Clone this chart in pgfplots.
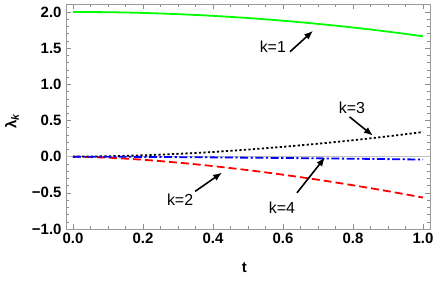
\documentclass[border=0pt]{standalone}
\usepackage{fontspec}
\setmainfont{Liberation Sans}
\usepackage{pgfplots}
\pgfplotsset{compat=1.18}
\usetikzlibrary{arrows.meta}
\begin{document}
\begin{tikzpicture}
\begin{axis}[
  scale only axis, width=364bp, height=225bp,
  xmin=-0.02, xmax=1.02, ymin=-1.0, ymax=2.11,
  axis line style={color=black!40},
  tick align=inside,
  major tick length=5bp, minor tick length=3bp,
  every tick/.style={color=black!45, line width=0.5pt},
  xtick={0,0.2,0.4,0.6,0.8,1.0},
  xticklabels={0.0,0.2,0.4,0.6,0.8,1.0},
  minor x tick num=3,
  ytick={-1,-0.5,0,0.5,1,1.5,2},
  yticklabels={−1.0,−0.5,0.0,0.5,1.0,1.5,2.0},
  minor y tick num=4,
  ticklabel style={font=\bfseries\fontsize{15}{15}\selectfont},
  xticklabel style={yshift=-1bp},
  yticklabel style={xshift=-1bp},
  xlabel={t}, ylabel={λ\textsubscript{\itshape k}},
  every axis x label/.style={at={(rel axis cs:0.49,0)}, anchor=center, yshift=-39bp, font=\bfseries\fontsize{15}{15}\selectfont},
  every axis y label/.style={at={(rel axis cs:0,0.48)}, anchor=center, xshift=-54bp, rotate=90, font=\bfseries\fontsize{15}{15}\selectfont},
  clip=true,
]
\addplot[black!25, line width=0.6pt, forget plot] coordinates {(-0.02,0) (1.02,0)};
\addplot[color={rgb,255:red,0;green,255;blue,0}, line width=1.8pt, smooth] coordinates {
(0,2.000) (0.1,1.9966) (0.2,1.9866) (0.3,1.9698) (0.4,1.9462) (0.5,1.916) (0.6,1.879) (0.7,1.835) (0.8,1.785) (0.9,1.728) (1.0,1.664)};
\addplot[color={rgb,255:red,255;green,0;blue,0}, line width=1.8pt, dash pattern=on 8bp off 4bp, smooth] coordinates {
(0,0) (0.1,-0.0142) (0.2,-0.043) (0.3,-0.0825) (0.4,-0.1305) (0.5,-0.1865) (0.6,-0.2497) (0.7,-0.319) (0.8,-0.3955) (0.9,-0.4774) (1.0,-0.565)};
\addplot[black, line width=1.8pt, dash pattern=on 2.2bp off 2.3bp, smooth] coordinates {
(0,0) (0.1,0.0054) (0.2,0.0188) (0.3,0.039) (0.4,0.065) (0.5,0.098) (0.6,0.136) (0.7,0.179) (0.8,0.227) (0.9,0.281) (1.0,0.34)};
\addplot[color={rgb,255:red,0;green,0;blue,255}, line width=1.8pt, dash pattern=on 8bp off 2.5bp on 2.2bp off 2.5bp, smooth] coordinates {
(0,0) (0.1,-0.0013) (0.2,-0.0036) (0.3,-0.0066) (0.4,-0.0101) (0.5,-0.0141) (0.6,-0.0186) (0.7,-0.0234) (0.8,-0.0286) (0.9,-0.0342) (1.0,-0.04)};
% annotations
\node[font=\fontsize{16}{16}\selectfont] at (axis cs:0.571,1.52) {k=1};
\draw[-{Latex[length=9bp,width=7bp]}, line width=1.6pt] (axis cs:0.62,1.45) -- (axis cs:0.686,1.74);
\node[font=\fontsize{16}{16}\selectfont] at (axis cs:0.797,0.68) {k=3};
\draw[-{Latex[length=9bp,width=7bp]}, line width=1.6pt] (axis cs:0.79,0.55) -- (axis cs:0.857,0.29);
\node[font=\fontsize{16}{16}\selectfont] at (axis cs:0.306,-0.595) {k=2};
\draw[-{Latex[length=9bp,width=7bp]}, line width=1.6pt] (axis cs:0.349,-0.48) -- (axis cs:0.426,-0.22);
\node[font=\fontsize{16}{16}\selectfont] at (axis cs:0.597,-0.70) {k=4};
\draw[-{Latex[length=9bp,width=7bp]}, line width=1.6pt] (axis cs:0.64,-0.50) -- (axis cs:0.72,-0.01);
\end{axis}
\pgfresetboundingbox
\useasboundingbox ([shift={(-66bp,-52bp)}]current axis.south west) rectangle ([shift={(6bp,4bp)}]current axis.north east);
\end{tikzpicture}
\end{document}
